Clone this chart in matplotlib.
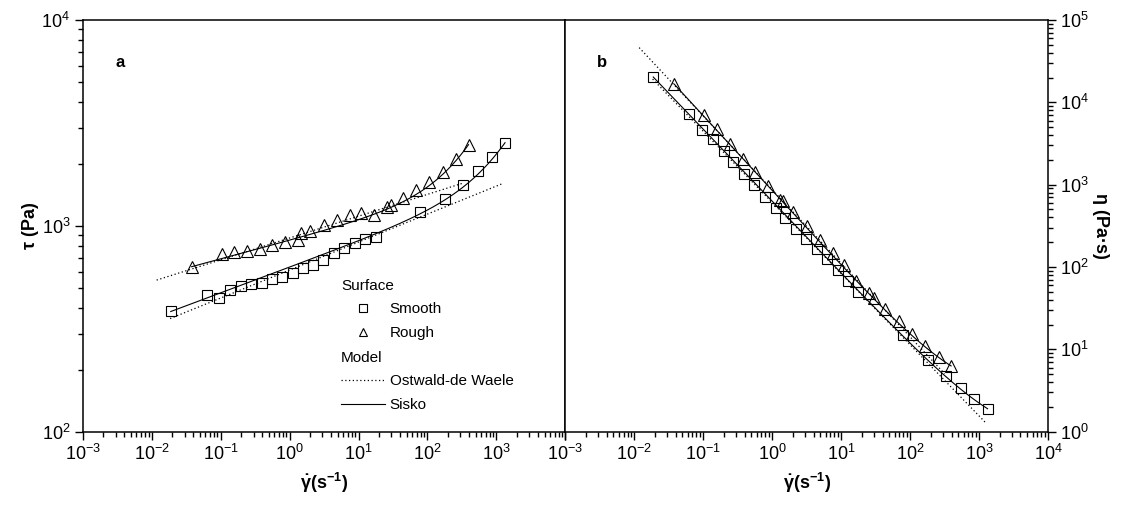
import matplotlib
matplotlib.use('Agg')
import matplotlib.pyplot as plt
from matplotlib.lines import Line2D
import numpy as np

plt.rcParams['font.family'] = ['Liberation Sans', 'DejaVu Sans']
plt.rcParams['mathtext.fontset'] = 'custom'
plt.rcParams['mathtext.rm'] = 'Liberation Sans'
plt.rcParams['mathtext.bf'] = 'Liberation Sans:bold'
plt.rcParams['mathtext.it'] = 'Liberation Sans:italic'

# shear rate (1/s) and shear stress (Pa)
smooth_rate = [0.0189, 0.063, 0.096, 0.137, 0.199, 0.274, 0.396, 0.553, 0.788, 1.12,
               1.56, 2.22, 3.10, 4.44, 6.26, 8.96, 12.6, 17.7, 78.6, 181, 331, 541, 853, 1333]
smooth_stress = [387, 461, 444, 486, 510, 520, 529, 550, 564, 587,
                 622, 647, 682, 735, 778, 822, 860, 885, 1163, 1355, 1585, 1853, 2158, 2517]

rough_rate = [0.038, 0.104, 0.158, 0.245, 0.374, 0.565, 0.863, 1.32, 1.46, 2.01, 3.18, 4.95,
              7.57, 10.9, 16.7, 25.8, 29.9, 44.1, 68.1, 107, 166, 259, 394]
rough_stress = [632, 727, 743, 755, 771, 807, 832, 853, 920, 944, 1009, 1067,
                1128, 1150, 1128, 1238, 1262, 1361, 1493, 1638, 1832, 2105, 2470]

# model parameters (estimated from the fitted curves)
ow_smooth = dict(K=610, n=0.136, lo=0.0185, hi=1270)
ow_rough = dict(K=873, n=0.106, lo=0.0118, hi=317)
sisko_smooth = dict(eta_inf=0.74, K=630, n=0.125, lo=0.0189, hi=1333)
sisko_rough = dict(eta_inf=2.6, K=850, n=0.09, lo=0.038, hi=394)


def ostwald(p):
    g = np.logspace(np.log10(p['lo']), np.log10(p['hi']), 200)
    return g, p['K'] * g ** p['n']


def sisko(p):
    g = np.logspace(np.log10(p['lo']), np.log10(p['hi']), 200)
    return g, p['eta_inf'] * g + p['K'] * g ** p['n']


fig = plt.figure(figsize=(11.24, 5.12), dpi=100)
ax1 = fig.add_axes([0.0736, 0.1568, 0.4294, 0.8041])
ax2 = fig.add_axes([0.5029, 0.1568, 0.4294, 0.8041])

mk = dict(mfc='none', mec='black', mew=0.8, ls='none')
dot = dict(color='black', lw=0.9, ls=(0, (1, 2)))
sol = dict(color='black', lw=0.8)

sr, ss = np.array(smooth_rate), np.array(smooth_stress)
rr, rs = np.array(rough_rate), np.array(rough_stress)

# panel a: stress
for p in (ow_smooth, ow_rough):
    g, t = ostwald(p)
    ax1.plot(g, t, **dot)
for p in (sisko_smooth, sisko_rough):
    g, t = sisko(p)
    ax1.plot(g, t, **sol)
ax1.plot(sr, ss, marker='s', ms=7, **mk)
ax1.plot(rr, rs, marker='^', ms=8, **mk)

# panel b: viscosity = stress / shear rate
for p in (ow_smooth, ow_rough):
    g, t = ostwald(p)
    ax2.plot(g, t / g, **dot)
for p in (sisko_smooth, sisko_rough):
    g, t = sisko(p)
    ax2.plot(g, t / g, **sol)
ax2.plot(sr, ss / sr, marker='s', ms=7, **mk)
ax2.plot(rr, rs / rr, marker='^', ms=8, **mk)

for ax in (ax1, ax2):
    ax.set_xscale('log')
    ax.set_yscale('log')
    ax.set_xlim(1e-3, 1e4)
    ax.set_xticks([10.0 ** k for k in range(-3, 5)])
    ax.tick_params(which='both', direction='out', width=1, labelsize=13)
    ax.tick_params(which='major', length=6, pad=3)
    ax.tick_params(which='minor', length=3.5)
    ax.tick_params(axis='x', which='both', top=False)
    for s in ax.spines.values():
        s.set_linewidth(1.1)
    ax.set_xlabel(r'$\mathbf{\dot{\gamma}(s^{-1})}$', fontsize=13, va='center')
    ax.xaxis.set_label_coords(0.5, -0.125)

ax1.set_ylim(1e2, 1e4)
ax1.tick_params(axis='y', which='both', right=False)
ax1.xaxis.get_major_ticks()[-1].label1.set_visible(False)
ax1.set_ylabel('τ (Pa)', fontsize=13, fontweight='bold', va='center')
ax1.yaxis.set_label_coords(-0.109, 0.5)
ax1.text(0.067, 0.898, 'a', transform=ax1.transAxes, fontsize=12,
         fontweight='bold', va='center')

ax2.set_ylim(1e0, 1e5)
ax2.yaxis.tick_right()
ax2.yaxis.set_label_position('right')
ax2.tick_params(axis='y', which='both', left=False)
ax2.set_ylabel('η (Pa·s)', fontsize=13, fontweight='bold', rotation=270, va='center')
ax2.yaxis.set_label_coords(1.108, 0.5)
ax2.text(0.066, 0.898, 'b', transform=ax2.transAxes, fontsize=12,
         fontweight='bold', va='center')

# legends
h_sq = Line2D([], [], marker='s', ms=7, **mk)
h_tri = Line2D([], [], marker='^', ms=8, **mk)
h_dot = Line2D([], [], **dot)
h_sol = Line2D([], [], **sol)
legkw = dict(loc='upper left', frameon=False, alignment='left', fontsize=11,
             title_fontsize=11, handlelength=2.9, handletextpad=0.3, borderpad=0,
             borderaxespad=0, labelspacing=0.62, markerscale=0.8, numpoints=1)
leg1 = ax1.legend([h_sq, h_tri], ['Smooth', 'Rough'], title='Surface',
                  bbox_to_anchor=(0.535, 0.371), **legkw)
ax1.add_artist(leg1)
ax1.legend([h_dot, h_sol], ['Ostwald-de Waele', 'Sisko'], title='Model',
           bbox_to_anchor=(0.535, 0.196), **legkw)

fig.savefig('out.png', dpi=100)
